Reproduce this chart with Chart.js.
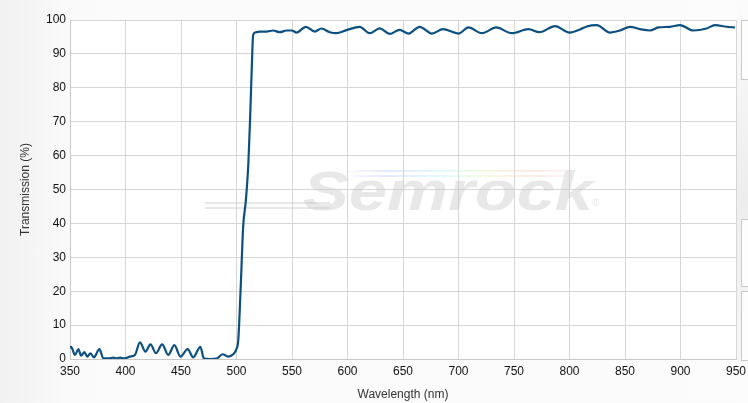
<!DOCTYPE html>
<html>
<head>
<meta charset="utf-8">
<script src="https://cdn.jsdelivr.net/npm/chart.js@4.4.1/dist/chart.umd.min.js"></script>
<style>
  html, body { margin: 0; padding: 0; }
  body {
    width: 748px; height: 403px; overflow: hidden;
    background: linear-gradient(to right, #f1f1f1 0px, #fafafa 70px, #fcfcfc 100%);
    font-family: "Liberation Sans", Arial, sans-serif;
  }
  .wrap { position: relative; width: 748px; height: 403px; }
  canvas { position: absolute; left: 0; top: 0; z-index: 2; }
  .side { position: absolute; left: 737px; top: 0; width: 11px; height: 362px; background: linear-gradient(#fbfbfb, #ededed 55%, #f6f6f6); z-index: 1; }
  .side .box { position: absolute; left: 4px; width: 10px; border: 1px solid #c9c9c9; border-right: none; background: #fdfdfd; }
</style>
</head>
<body>
<div class="wrap">
  <canvas id="chart" width="748" height="403"></canvas>
  <div class="side">
    <div class="box" style="top:20px;height:58px"></div>
    <div class="box" style="top:219px;height:66px"></div>
    <div class="box" style="top:291px;height:68px"></div>
  </div>
</div>
<script>
// wavelength (nm) and transmission (%)
const wavelengths = [
  350, 351, 354.5, 357.5, 360, 363, 365.5, 368.5, 371.5, 376.5, 380, 385, 389, 392, 395, 399,
  404, 408.5, 413, 418, 422.5, 427.5, 433, 438.5, 444, 449.5, 456, 461, 467.5, 470.5, 476, 482,
  487.5, 492.5, 497, 500, 501.6, 503.8, 506, 508.5, 510.7, 512.2, 513.7, 515, 516.7,
  521, 527, 533, 539, 545, 550, 554, 562.5, 570.5, 576.5, 584, 590, 599, 611, 620, 629, 638,
  647, 655, 665, 676, 686, 700, 709, 721, 734, 748, 763, 773, 787, 800, 809.5, 815.5, 824.5,
  836.5, 845.5, 854.5, 863.5, 872.5, 880, 890.5, 899.5, 911.5, 923.5, 931, 941.5, 949
];
const transmission = [
  3.2, 3.6, 1.2, 2.9, 1.0, 2.0, 0.7, 1.7, 0.5, 2.9, 0.2, 0.2, 0.4, 0.2, 0.4, 0.2,
  0.7, 1.2, 4.9, 2.2, 4.3, 1.7, 4.3, 1.2, 4.1, 0.7, 2.9, 0.5, 3.6, 0.2, 0.0, 0.1,
  1.4, 0.7, 1.4, 3.0, 5.6, 21.3, 39, 47, 57.8, 70.5, 85.3, 95.6, 96.3,
  96.6, 96.6, 96.9, 96.4, 96.9, 96.9, 96.3, 98.0, 96.6, 97.5, 96.4, 96.1, 97.0, 98.0, 96.1, 97.5, 95.9,
  97.1, 96.0, 98.0, 96.0, 97.3, 96.0, 97.8, 96.1, 97.8, 96.1, 97.3, 96.4, 98.2, 96.3, 97.2, 98.1, 98.5,
  96.3, 96.9, 98.0, 97.3, 96.9, 97.8, 98.0, 98.5, 96.9, 97.5, 98.5, 98.0, 97.8
];

const xTicks = { min: 350, max: 950, step: 50 };
const yTicks = { min: 0, max: 100, step: 10 };

const plotBackground = {
  id: "plotBackground",
  beforeDraw(chart) {
    const { ctx, chartArea: a } = chart;
    ctx.save();
    ctx.fillStyle = "#ffffff";
    ctx.fillRect(a.left, a.top, a.right - a.left, a.bottom - a.top);
    ctx.restore();
  },
};

const watermark = {
  id: "watermark",
  beforeDatasetsDraw(chart) {
    const { ctx } = chart;
    ctx.save();

    // streaks to the left of the logo
    ctx.strokeStyle = "rgba(195, 195, 195, 0.4)";
    ctx.lineWidth = 2;
    [203, 208].forEach((y) => {
      ctx.beginPath();
      ctx.moveTo(205, y);
      ctx.lineTo(330, y);
      ctx.stroke();
    });

    // rainbow streak above the letters
    const grad = ctx.createLinearGradient(340, 0, 565, 0);
    grad.addColorStop(0, "rgba(210, 210, 255, 0)");
    grad.addColorStop(0.2, "rgba(200, 200, 255, 0.45)");
    grad.addColorStop(0.45, "rgba(190, 245, 245, 0.45)");
    grad.addColorStop(0.65, "rgba(235, 245, 190, 0.45)");
    grad.addColorStop(0.85, "rgba(255, 205, 205, 0.45)");
    grad.addColorStop(1, "rgba(255, 205, 205, 0.2)");
    ctx.strokeStyle = grad;
    ctx.lineWidth = 2;
    [171, 176].forEach((y) => {
      ctx.beginPath();
      ctx.moveTo(340, y);
      ctx.lineTo(565, y);
      ctx.stroke();
    });

    ctx.font = "italic bold 56px 'Liberation Sans', Arial, sans-serif";
    ctx.fillStyle = "rgba(200, 200, 200, 0.42)";
    ctx.textBaseline = "alphabetic";
    const w = ctx.measureText("Semrock").width;
    ctx.translate(303, 210);
    ctx.scale(290 / w, 1);
    ctx.fillText("Semrock", 0, 0);
    ctx.setTransform(1, 0, 0, 1, 0, 0);
    ctx.font = "10px 'Liberation Sans', Arial, sans-serif";
    ctx.fillText("®", 592, 206);
    ctx.restore();
  },
};

const tickFont = { family: "'Liberation Sans', Arial, sans-serif", size: 12 };

new Chart(document.getElementById("chart"), {
  type: "line",
  data: {
    datasets: [{
      data: wavelengths.map((x, i) => ({ x, y: transmission[i] })),
      borderColor: "#0b5080",
      borderWidth: 2.2,
      pointRadius: 0,
      cubicInterpolationMode: "monotone",
      fill: false,
    }],
  },
  options: {
    responsive: false,
    animation: false,
    layout: { padding: { top: 20, right: 12, left: 0, bottom: 0 } },
    plugins: { legend: { display: false }, tooltip: { enabled: false } },
    scales: {
      x: {
        type: "linear",
        min: xTicks.min,
        max: xTicks.max,
        ticks: { stepSize: xTicks.step, color: "#111", font: tickFont, padding: 5, maxRotation: 0 },
        grid: { color: "#d6d6d6", drawTicks: false },
        border: { color: "#c8c8c8" },
        title: { display: true, text: "Wavelength (nm)", color: "#333", font: tickFont, padding: { top: 0, bottom: 1 } },
        afterFit: (scale) => {
          scale.height = 44;
          scale.paddingLeft = 0;
          scale.paddingRight = 0;
        },
      },
      y: {
        min: yTicks.min,
        max: yTicks.max,
        ticks: { stepSize: yTicks.step, color: "#111", font: tickFont, padding: 4 },
        grid: { color: "#d6d6d6", drawTicks: false },
        border: { color: "#c8c8c8" },
        title: { display: true, text: "Transmission (%)", color: "#333", font: tickFont, padding: { top: 18, bottom: 0 } },
        afterFit: (scale) => {
          scale.width = 70;
          scale.paddingTop = 0;
          scale.paddingBottom = 0;
        },
      },
    },
  },
  plugins: [plotBackground, watermark],
});
</script>
</body>
</html>
